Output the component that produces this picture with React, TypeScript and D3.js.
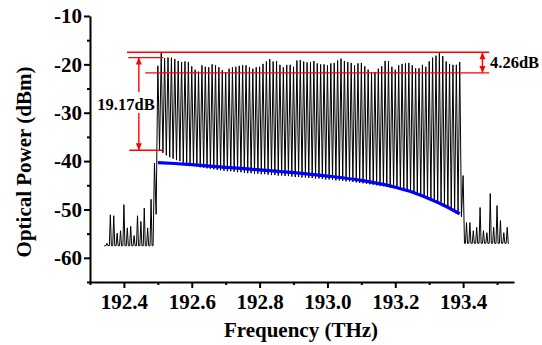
import React, { useEffect, useRef } from "react";
import * as d3 from "d3";

const W = 542;
const H = 345;

// axis
const X_DOMAIN = [192.3, 193.55];
const Y_DOMAIN = [-65, -10];
const X_MAJOR = [192.4, 192.6, 192.8, 193.0, 193.2, 193.4];
const X_MINOR = [192.3, 192.5, 192.7, 192.9, 193.1, 193.3, 193.5];
const Y_MAJOR = [-60, -50, -40, -30, -20, -10];
const Y_MINOR = [-65, -55, -45, -35, -25, -15];

// left noise region
const LEFT_START = 192.342;
const LEFT_FLOOR = -57.5;
const LEFT_FREQ = [192.35, 192.36, 192.37, 192.38, 192.39, 192.4, 192.41, 192.42, 192.43, 192.44, 192.45, 192.46, 192.47, 192.48];
const LEFT_PEAK = [-57.0, -51.1, -51.3, -54.9, -54.4, -49.0, -53.8, -53.5, -55.4, -51.3, -52.5, -49.7, -53.8, -47.9];
// edge spike before comb
const EDGE_LEFT = [
  [192.486, -57.5],
  [192.49, -40.4],
  [192.495, -51.0],
];

// comb lines (10 GHz spacing)
const COMB_START = 192.5;
const COMB_SPACING = 0.01;
const COMB_PEAK = [
  -20.3, -17.6, -18.7, -18.6, -18.6, -18.9, -19.3, -19.5, -19.4, -19.5,
  -20.4, -21.1, -21.5, -20.2, -20.5, -20.6, -20.0, -20.2, -20.6, -21.2,
  -21.6, -20.9, -20.6, -20.5, -20.3, -20.2, -20.2, -20.6, -20.9, -20.6,
  -20.5, -19.9, -19.4, -18.9, -19.4, -19.3, -20.1, -20.6, -20.1, -20.1,
  -20.5, -19.2, -19.1, -19.4, -19.6, -19.5, -19.3, -19.8, -20.0, -20.0,
  -20.2, -19.8, -19.7, -19.2, -18.8, -19.3, -19.5, -19.7, -20.2, -19.8,
  -19.7, -20.4, -21.1, -21.6, -21.6, -20.9, -20.4, -19.3, -19.3, -20.5,
  -21.1, -20.2, -19.9, -19.8, -19.7, -20.2, -20.8, -20.8, -20.1, -20.5,
  -19.4, -18.6, -18.2, -17.6, -18.3, -19.4, -19.9, -20.1, -20.1, -19.5,
];
const COMB_TROUGH = [
  -37.8, -38.3, -38.8, -39.2, -39.5, -39.8, -40.0, -40.3, -40.5, -40.7,
  -40.9, -41.1, -41.3, -41.4, -41.5, -41.6, -41.7, -41.8, -41.9, -42.0,
  -42.1, -42.1, -42.2, -42.3, -42.3, -42.4, -42.5, -42.5, -42.6, -42.6,
  -42.7, -42.7, -42.8, -42.9, -42.9, -43.0, -43.0, -43.1, -43.1, -43.2,
  -43.3, -43.3, -43.4, -43.4, -43.5, -43.5, -43.6, -43.6, -43.7, -43.8,
  -43.8, -43.9, -44.0, -44.0, -44.1, -44.2, -44.2, -44.3, -44.4, -44.5,
  -44.6, -44.7, -44.8, -44.9, -45.0, -45.1, -45.2, -45.3, -45.5, -45.6,
  -45.7, -45.9, -46.0, -46.2, -46.4, -46.6, -46.8, -47.0, -47.2, -47.5,
  -47.7, -48.0, -48.3, -48.6, -48.9, -49.3, -49.7, -50.1, -50.6,
];
// edge after comb
const EDGE_RIGHT = [
  [193.395, -51.5],
  [193.4, -43.0],
  [193.404, -57.0],
];

// right noise region
const RIGHT_END = 193.535;
const RIGHT_FLOOR = -57.0;
const RIGHT_FREQ = [193.41, 193.42, 193.43, 193.44, 193.45, 193.46, 193.47, 193.48, 193.49, 193.5, 193.51, 193.52, 193.53];
const RIGHT_PEAK = [-52.7, -52.7, -54.4, -53.7, -49.6, -54.4, -54.8, -46.7, -53.7, -49.2, -52.3, -54.8, -53.7];

// blue envelope (trough fit)
const BLUE_FREQ = [192.5, 192.55, 192.6, 192.7, 192.8, 192.9, 193.0, 193.1, 193.2, 193.25, 193.3, 193.35, 193.39];
const BLUE_DB = [-40.3, -40.5, -40.75, -41.3, -41.8, -42.4, -43.1, -44.0, -45.4, -46.4, -47.8, -49.4, -50.9];

// annotations (dBm levels and frequency extents)
const ANN_TOP = -17.5;
const ANN_SHORT_TOP = -18.6;
const ANN_LOW = -21.76;
const ANN_SHORT_BOTTOM = -37.77;
const ANN_LABEL_LEFT = "19.17dB";
const ANN_LABEL_RIGHT = "4.26dB";

const FONT = "'Liberation Serif', 'Times New Roman', serif";

export default function App() {
  const gx = useRef<SVGGElement>(null);
  const gxm = useRef<SVGGElement>(null);
  const gy = useRef<SVGGElement>(null);
  const gym = useRef<SVGGElement>(null);

  const x = d3.scaleLinear().domain(X_DOMAIN).range([90, 514]);
  const y = d3.scaleLinear().domain(Y_DOMAIN).range([282, 16]);

  // build trace
  const pts: [number, number][] = [];
  pts.push([LEFT_START, LEFT_FLOOR]);
  LEFT_FREQ.forEach((f, i) => {
    pts.push([f - 0.003, LEFT_FLOOR]);
    pts.push([f, LEFT_PEAK[i]]);
    pts.push([f + 0.003, LEFT_FLOOR]);
  });
  EDGE_LEFT.forEach((p) => pts.push([p[0], p[1]]));
  COMB_PEAK.forEach((p, k) => {
    const f = COMB_START + COMB_SPACING * k;
    pts.push([f, p]);
    if (k < COMB_TROUGH.length) pts.push([f + COMB_SPACING / 2, COMB_TROUGH[k]]);
  });
  EDGE_RIGHT.forEach((p) => pts.push([p[0], p[1]]));
  RIGHT_FREQ.forEach((f, i) => {
    pts.push([f - 0.003, RIGHT_FLOOR]);
    pts.push([f, RIGHT_PEAK[i]]);
    pts.push([f + 0.003, RIGHT_FLOOR]);
  });
  pts.push([RIGHT_END, RIGHT_FLOOR]);

  const line = d3
    .line<[number, number]>()
    .x((d) => x(d[0]))
    .y((d) => y(d[1]));
  const blueLine = d3
    .line<number>()
    .x((_, i) => x(BLUE_FREQ[i]))
    .y((d) => y(d))
    .curve(d3.curveMonotoneX);

  useEffect(() => {
    const style = (sel: any, size: number, labels: boolean) => {
      sel.selectAll(".domain").attr("stroke-width", 2).attr("stroke", "#000");
      sel.selectAll(".tick line").attr("stroke-width", 2).attr("stroke", "#000");
      sel
        .selectAll(".tick text")
        .attr("font-family", FONT)
        .attr("font-weight", "bold")
        .attr("font-size", size)
        .attr("fill", "#000");
      if (!labels) sel.selectAll(".tick text").remove();
    };
    const ax = d3.select(gx.current!);
    ax.call(
      d3.axisBottom(x).tickValues(X_MAJOR).tickSize(6).tickSizeOuter(0).tickPadding(6).tickFormat(d3.format(".1f")) as any
    );
    style(ax, 21, true);
    const axm = d3.select(gxm.current!);
    axm.call(d3.axisBottom(x).tickValues(X_MINOR).tickSize(3).tickSizeOuter(0) as any);
    style(axm, 10, false);
    axm.select(".domain").remove();

    const ay = d3.select(gy.current!);
    ay.call(
      d3.axisLeft(y).tickValues(Y_MAJOR).tickSize(6).tickSizeOuter(0).tickPadding(2).tickFormat(d3.format("d")) as any
    );
    style(ay, 21, true);
    ay.selectAll(".tick text").text((d: any) => String(d).replace("\u2212", "-"));
    const aym = d3.select(gym.current!);
    aym.call(d3.axisLeft(y).tickValues(Y_MINOR).tickSize(3).tickSizeOuter(0) as any);
    style(aym, 10, false);
    aym.select(".domain").remove();
  }, []);

  const red = "#ff0000";
  const arrow = (ax: number, y1: number, y2: number) => {
    // arrowheads: pointing up at y1, down at y2
    return (
      <g fill={red}>
        <path d={`M${ax},${y1} L${ax - 3},${y1 + 7} L${ax + 3},${y1 + 7} Z`} />
        <path d={`M${ax},${y2} L${ax - 3},${y2 - 7} L${ax + 3},${y2 - 7} Z`} />
      </g>
    );
  };

  const axL = x(192.444);
  const axR = x(193.457);

  return (
    <svg
      width={W}
      height={H}
      style={{ position: "absolute", left: 0, top: 0, background: "#fff" }}
      xmlns="http://www.w3.org/2000/svg"
    >
      <rect width={W} height={H} fill="#fff" />
      <path d={line(pts) || ""} fill="none" stroke="#000" strokeWidth={1} strokeLinejoin="miter" />
      <path d={blueLine(BLUE_DB) || ""} fill="none" stroke="#0000ff" strokeWidth={3.2} />

      {/* red annotation lines */}
      <g stroke={red} strokeWidth={1.4}>
        <line x1={x(192.409)} x2={x(193.477)} y1={y(ANN_TOP)} y2={y(ANN_TOP)} />
        <line x1={x(192.413)} x2={x(192.516)} y1={y(ANN_SHORT_TOP)} y2={y(ANN_SHORT_TOP)} />
        <line x1={x(192.463)} x2={x(193.477)} y1={y(ANN_LOW)} y2={y(ANN_LOW)} />
        <line x1={x(192.416)} x2={x(192.513)} y1={y(ANN_SHORT_BOTTOM)} y2={y(ANN_SHORT_BOTTOM)} />
        <line x1={axL} x2={axL} y1={y(ANN_SHORT_TOP)} y2={92} />
        <line x1={axL} x2={axL} y1={113} y2={y(ANN_SHORT_BOTTOM)} />
        <line x1={axR} x2={axR} y1={y(ANN_TOP)} y2={y(ANN_LOW)} />
      </g>
      {arrow(axL, y(ANN_SHORT_TOP), y(ANN_SHORT_BOTTOM))}
      {arrow(axR, y(ANN_TOP), y(ANN_LOW))}
      <text
        x={126}
        y={110}
        textAnchor="middle"
        fontFamily={FONT}
        fontWeight="bold"
        fontSize={16.5}
        fill="#000"
      >
        {ANN_LABEL_LEFT}
      </text>
      <text x={490} y={68} textAnchor="start" fontFamily={FONT} fontWeight="bold" fontSize={16.5} fill="#000">
        {ANN_LABEL_RIGHT}
      </text>

      <g ref={gxm} transform="translate(0,282)" />
      <g ref={gx} transform="translate(0,282)" />
      <g ref={gym} transform="translate(90,0)" />
      <g ref={gy} transform="translate(90,0)" />

      <text
        x={301}
        y={337}
        textAnchor="middle"
        fontFamily={FONT}
        fontWeight="bold"
        fontSize={21}
        fill="#000"
      >
        Frequency (THz)
      </text>
      <text
        transform="translate(31,162) rotate(-90)"
        textAnchor="middle"
        fontFamily={FONT}
        fontWeight="bold"
        fontSize={21}
        fill="#000"
      >
        Optical Power (dBm)
      </text>
    </svg>
  );
}
